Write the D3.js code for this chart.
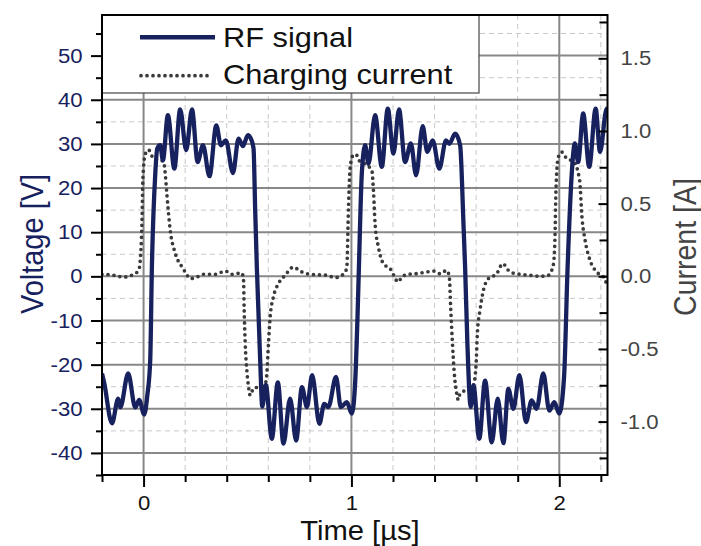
<!DOCTYPE html>
<html>
<head>
<meta charset="utf-8">
<script src="https://cdn.jsdelivr.net/npm/d3@7"></script>
<style>
  body { margin: 0; background: #fff; }
  svg { display: block; font-family: "Liberation Sans", Arial, sans-serif; }
</style>
</head>
<body>
<svg id="chart" width="701" height="546"></svg>
<script>
// RF signal (left axis, V)
const rfTime = [-0.2, -0.19, -0.152, -0.122, -0.112, -0.074, -0.040, -0.021, 0.003, 0.018, 0.032, 0.040, 0.056, 0.066,
  0.080, 0.093, 0.117, 0.148, 0.176, 0.205, 0.233, 0.260, 0.286, 0.317, 0.350, 0.372, 0.396, 0.430, 0.457, 0.478,
  0.502, 0.518, 0.529, 0.537, 0.545, 0.561, 0.571, 0.588, 0.617, 0.646, 0.673, 0.705, 0.734, 0.762, 0.786, 0.811,
  0.846, 0.869, 0.889, 0.926, 0.949, 0.978, 1.002, 1.018, 1.030, 1.036, 1.050, 1.066, 1.082, 1.114, 1.146, 1.175,
  1.202, 1.229, 1.258, 1.286, 1.311, 1.343, 1.365, 1.391, 1.423, 1.455, 1.471, 1.499, 1.523, 1.539, 1.547, 1.558,
  1.574, 1.587, 1.615, 1.643, 1.675, 1.704, 1.731, 1.755, 1.779, 1.808, 1.840, 1.867, 1.891, 1.923, 1.952, 1.976,
  2.000, 2.023, 2.040, 2.060, 2.075, 2.091, 2.115, 2.144, 2.175, 2.196, 2.228, 2.24];
const rfVoltage = [-22, -24, -33.3, -27.7, -29.7, -22, -29.7, -28, -31.3, -27, -19, 2, 23, 29,
  29.7, 26.3, 36.5, 24.4, 37.8, 28.6, 37.8, 25.9, 29.7, 22.7, 34.2, 29.7, 30.8, 23.4, 31.2, 29.5,
  32, 31, 29, 15, 2, -19, -29.5, -24.6, -36.8, -24, -37.9, -27.7, -37.2, -25.1, -29.6, -22.4,
  -33.4, -28.9, -29.6, -22.8, -29.6, -28.5, -31.1, -24, -8, 2, 23.3, 29.7, 25.5, 36.5, 24.8, 38,
  27.8, 37.8, 25.9, 30.1, 22.9, 34, 28.2, 30.8, 24.4, 30.8, 30, 32.3, 29.7, 12, 2, -15.3,
  -29.6, -24.7, -36.8, -23.6, -37.6, -27.7, -37.8, -25.5, -30, -22.4, -33, -28.1, -30, -22, -30.4, -28.5,
  -31.1, -22.8, 2, 23.3, 30.1, 25.9, 36.9, 24.8, 38, 28.2, 38, 36];

// Charging current (right axis, A)
const curTime = [-0.2, -0.192, -0.144, -0.096, -0.048, -0.024, -0.016, -0.008, -0.003, 0.008, 0.024, 0.048, 0.077,
  0.096, 0.104, 0.113, 0.128, 0.152, 0.185, 0.200, 0.225, 0.257, 0.288, 0.345, 0.393, 0.425, 0.473, 0.481,
  0.484, 0.489, 0.497, 0.505, 0.513, 0.529, 0.561, 0.585, 0.593, 0.601, 0.609, 0.625, 0.649, 0.681, 0.721,
  0.753, 0.801, 0.882, 0.922, 0.954, 0.970, 0.978, 0.986, 0.994, 1.007, 1.023, 1.034, 1.045, 1.098, 1.106,
  1.114, 1.130, 1.154, 1.186, 1.226, 1.242, 1.274, 1.314, 1.363, 1.402, 1.426, 1.459, 1.471, 1.478, 1.486,
  1.494, 1.507, 1.514, 1.522, 1.555, 1.587, 1.600, 1.606, 1.619, 1.635, 1.659, 1.699, 1.728, 1.763, 1.811,
  1.859, 1.907, 1.947, 1.971, 1.979, 1.984, 1.995, 2.012, 2.036, 2.069, 2.098, 2.109, 2.124, 2.148, 2.180,
  2.212, 2.228];
const curAmp = [0.014, 0.014, 0.007, -0.005, 0.014, 0.04, 0.11, 0.36, 0.68, 0.84, 0.87, 0.81, 0.80,
  0.79, 0.71, 0.55, 0.32, 0.16, 0.064, 0.03, -0.016, -0.005, 0.014, 0.014, 0.036, 0.014, 0.023, -0.028,
  -0.23, -0.46, -0.65, -0.76, -0.82, -0.77, -0.76, -0.74, -0.67, -0.46, -0.28, -0.14, -0.05, 0.007, 0.064,
  0.036, 0.014, 0.007, -0.009, 0.007, 0.03, 0.064, 0.48, 0.75, 0.83, 0.84, 0.80, 0.79, 0.73, 0.59,
  0.36, 0.2, 0.087, 0.053, -0.039, -0.005, 0.014, 0.018, 0.03, 0.036, 0.018, 0.041, -0.005, -0.23, -0.46,
  -0.65, -0.81, -0.85, -0.81, -0.78, -0.75, -0.60, -0.39, -0.23, -0.096, -0.016, 0.018, 0.087, 0.03, 0.014,
  0.007, 0, 0.007, 0.076, 0.25, 0.59, 0.82, 0.855, 0.81, 0.79, 0.66, 0.41, 0.25, 0.11, 0.03,
  -0.005, -0.05];

// ticks
const timeMajor = [0, 1, 2];
const timeMinor = [-0.2, 0.2, 0.4, 0.6, 0.8, 1.2, 1.4, 1.6, 1.8, 2.2];
const voltMajor = [50, 40, 30, 20, 10, 0, -10, -20, -30, -40];
const voltMinor = [55, 45, 35, 25, 15, 5, -5, -15, -25, -35, -45];
const currentMajor = [1.5, 1.0, 0.5, 0.0, -0.5, -1.0];
const currentMinor = [1.75, 1.25, 0.75, 0.25, -0.25, -0.75, -1.25];

const navy = '#17215e';
const SX = 1.08; // picture is slightly wider than tall

const svg = d3.select('#chart');
const plot = { left: 102, right: 607.5, top: 15, bottom: 475 };

const x = d3.scaleLinear().domain([-0.2, 2.232]).range([plot.left, plot.right]);
const yV = d3.scaleLinear().domain([-45, 59.2]).range([plot.bottom, plot.top]);
const yI = d3.scaleLinear().domain([-1.3675, 1.798]).range([plot.bottom, plot.top]);

svg.append('rect').attr('width', 701).attr('height', 546).attr('fill', '#fff');

svg.append('defs').append('clipPath').attr('id', 'clip')
  .append('rect')
  .attr('x', plot.left).attr('y', plot.top)
  .attr('width', plot.right - plot.left).attr('height', plot.bottom - plot.top);

// grid
const grid = svg.append('g');
grid.selectAll('.vmin').data(timeMinor.filter(d => d > -0.2)).join('line')
  .attr('x1', d => x(d)).attr('x2', d => x(d))
  .attr('y1', plot.top).attr('y2', plot.bottom)
  .attr('stroke', '#c8c8c8').attr('stroke-width', 1).attr('stroke-dasharray', '5,4');
grid.selectAll('.hmin').data(voltMinor.filter(d => d > -45)).join('line')
  .attr('x1', plot.left).attr('x2', plot.right)
  .attr('y1', d => yV(d)).attr('y2', d => yV(d))
  .attr('stroke', '#c8c8c8').attr('stroke-width', 1).attr('stroke-dasharray', '5,4');
grid.selectAll('.vmaj').data(timeMajor).join('line')
  .attr('x1', d => x(d)).attr('x2', d => x(d))
  .attr('y1', plot.top).attr('y2', plot.bottom)
  .attr('stroke', '#888').attr('stroke-width', 2);
grid.selectAll('.hmaj').data(voltMajor).join('line')
  .attr('x1', plot.left).attr('x2', plot.right)
  .attr('y1', d => yV(d)).attr('y2', d => yV(d))
  .attr('stroke', '#888').attr('stroke-width', 2);

// legend box covers the grid
svg.append('rect')
  .attr('x', plot.left).attr('y', plot.top)
  .attr('width', 377).attr('height', 78)
  .attr('fill', '#fff').attr('stroke', '#444').attr('stroke-width', 1.2);

// data
const lines = svg.append('g').attr('clip-path', 'url(#clip)');

const currentLine = d3.line()
  .x(d => x(d[0])).y(d => yI(d[1]))
  .curve(d3.curveMonotoneX);
lines.append('path')
  .datum(d3.zip(curTime, curAmp))
  .attr('d', currentLine)
  .attr('fill', 'none')
  .attr('stroke', '#3a3a3a')
  .attr('stroke-width', 3.7)
  .attr('stroke-linecap', 'round')
  .attr('stroke-dasharray', '0,6');

const rfLine = d3.line()
  .x(d => x(d[0])).y(d => yV(d[1]))
  .curve(d3.curveMonotoneX);
lines.append('path')
  .datum(d3.zip(rfTime, rfVoltage))
  .attr('d', rfLine)
  .attr('fill', 'none')
  .attr('stroke', navy)
  .attr('stroke-width', 4.3)
  .attr('stroke-linejoin', 'round');

// axes
function styleAxis(g, color) {
  g.select('.domain').remove();
  g.selectAll('line').attr('stroke', '#000').attr('stroke-width', 2);
  g.selectAll('text')
    .attr('fill', color)
    .attr('font-size', 20.5)
    .attr('font-family', '"Liberation Sans", Arial, sans-serif')
    .attr('transform', `scale(${SX},1)`);
}

svg.append('g').attr('transform', `translate(${plot.left},0)`)
  .call(d3.axisLeft(yV).tickValues(voltMinor).tickSize(6).tickFormat(''))
  .call(g => styleAxis(g, navy));
svg.append('g').attr('transform', `translate(${plot.left},0)`)
  .call(d3.axisLeft(yV).tickValues(voltMajor).tickSize(11).tickPadding(7).tickFormat(d => String(d)))
  .call(g => styleAxis(g, navy));

svg.append('g').attr('transform', `translate(0,${plot.bottom})`)
  .call(d3.axisBottom(x).tickValues(timeMinor).tickSize(7).tickFormat(''))
  .call(g => styleAxis(g, '#111'));
svg.append('g').attr('transform', `translate(0,${plot.bottom})`)
  .call(d3.axisBottom(x).tickValues(timeMajor).tickSize(12).tickPadding(8).tickFormat(d => String(d)))
  .call(g => styleAxis(g, '#111'));

svg.append('g').attr('transform', `translate(${plot.right},0)`)
  .call(d3.axisRight(yI).tickValues(currentMinor).tickSizeInner(-8).tickSizeOuter(0).tickFormat(''))
  .call(g => styleAxis(g, '#444'));
svg.append('g').attr('transform', `translate(${plot.right},0)`)
  .call(d3.axisRight(yI).tickValues(currentMajor).tickSizeInner(-9).tickSizeOuter(0).tickPadding(12)
    .tickFormat(d => d.toFixed(1)))
  .call(g => styleAxis(g, '#444'));

// frame
svg.append('rect')
  .attr('x', plot.left).attr('y', plot.top)
  .attr('width', plot.right - plot.left).attr('height', plot.bottom - plot.top)
  .attr('fill', 'none').attr('stroke', '#000').attr('stroke-width', 2);

// legend entries
const legend = svg.append('g');
legend.append('line')
  .attr('x1', 140).attr('x2', 215).attr('y1', 37.3).attr('y2', 37.3)
  .attr('stroke', navy).attr('stroke-width', 4.5);
legend.append('line')
  .attr('x1', 141).attr('x2', 210).attr('y1', 75.7).attr('y2', 75.7)
  .attr('stroke', '#3a3a3a').attr('stroke-width', 3.7)
  .attr('stroke-linecap', 'round').attr('stroke-dasharray', '0,6');
legend.append('text')
  .attr('transform', `translate(223,47.3) scale(${SX},1)`)
  .attr('font-size', 28.5).attr('fill', '#111')
  .text('RF signal');
legend.append('text')
  .attr('transform', `translate(223,84) scale(${SX},1)`)
  .attr('font-size', 28.5).attr('fill', '#111')
  .text('Charging current');

// axis titles
svg.append('text')
  .attr('transform', `translate(360,540) scale(${SX},1)`)
  .attr('text-anchor', 'middle')
  .attr('font-size', 27).attr('fill', '#111')
  .text('Time [µs]');
svg.append('text')
  .attr('transform', `translate(43,244) scale(${SX},1) rotate(-90)`)
  .attr('text-anchor', 'middle')
  .attr('font-size', 29).attr('fill', navy)
  .text('Voltage [V]');
svg.append('text')
  .attr('transform', `translate(696,247) scale(${SX},1) rotate(-90)`)
  .attr('text-anchor', 'middle')
  .attr('font-size', 28.5).attr('fill', '#444')
  .text('Current [A]');
</script>
</body>
</html>
